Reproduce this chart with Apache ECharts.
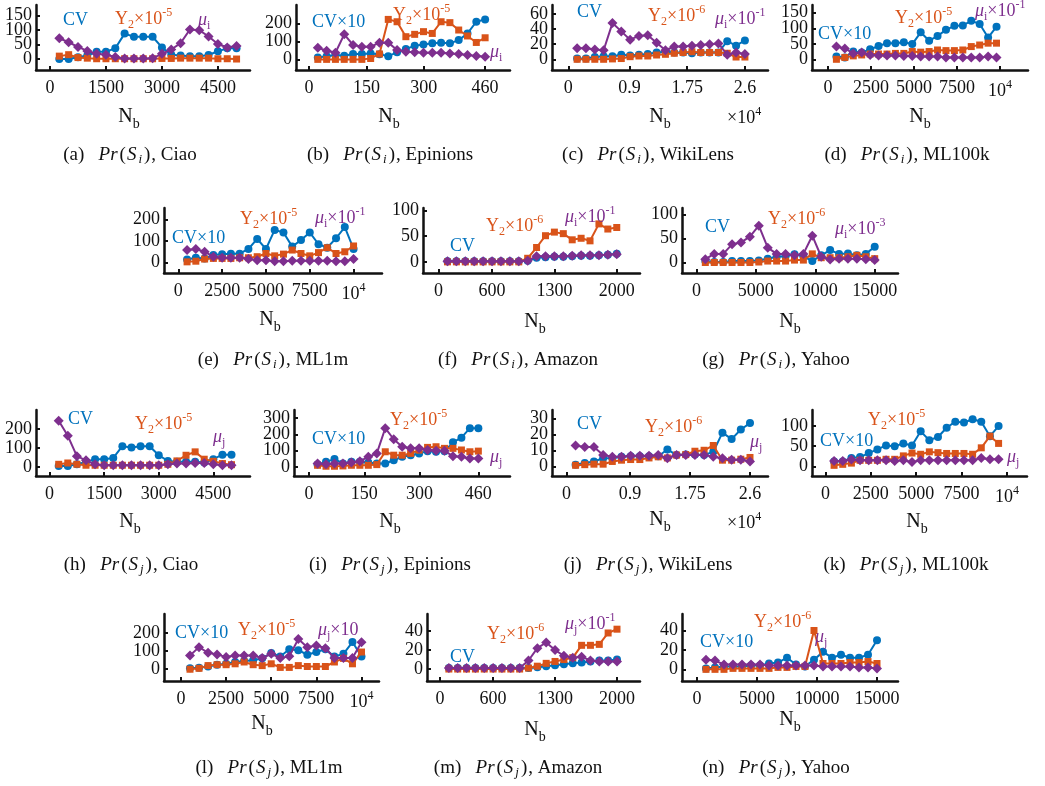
<!DOCTYPE html>
<html><head><meta charset="utf-8">
<script src="https://cdn.jsdelivr.net/npm/echarts@6/dist/echarts.min.js"></script>
<style>html,body{margin:0;padding:0;background:#fff}#c{width:1045px;height:786px}</style>
</head><body><div id="c"></div><script>
// ---------- DATA ----------
// (a) Pr(S_i), Ciao
const a_x  = [250,500,750,1000,1250,1500,1750,2000,2250,2500,2750,3000,3250,3500,3750,4000,4250,4500,4750,5000];
const a_cv = [0,0,6,12,25,25,37,88,77,77,77,40,15,12,10,10,14,27,37,37];
const a_y2 = [10,15,5,3,1,1,1,1,1,1,1,2,2,3,3,3,3,1,1,0];
const a_mu = [72,58,42,28,18,15,7,2,2,2,3,18,33,55,102,100,78,52,40,45];
// (b) Pr(S_i), Epinions
const b_x  = [23,46,69,92,115,138,161,184,207,230,253,276,299,322,345,368,391,414,437,460];
const b_cv = [11,18,24,20,30,30,33,28,18,39,57,76,83,89,92,89,107,144,209,222];
const b_y2 = [0,0,0,0,0,0,5,30,222,209,126,139,154,144,209,204,163,130,94,120];
const b_mu = [65,48,37,139,80,70,70,93,93,52,43,39,37,37,37,33,30,24,19,15];
// (c) Pr(S_i), WikiLens (x in 10^4)
const c_x  = [0.13,0.26,0.39,0.52,0.65,0.78,0.91,1.04,1.17,1.3,1.43,1.56,1.69,1.82,1.95,2.08,2.21,2.34,2.47,2.6];
const c_cv = [1,1,3,4,4,6,5,6,7,9,10,9,9,8,9,9,9,24,18,25];
const c_y2 = [0,0,0,0,0.5,1,3.5,4.4,4.4,5.7,6.6,8,9,10,9,9,9,8,3,3];
const c_mu = [14.6,14.6,13,12,48,37,26,31,32,22,12,17,17,18,19,20,21,6,9,7];
// (d) Pr(S_i), ML100k
const d_x  = [490,980,1470,1960,2450,2940,3430,3920,4410,4900,5390,5880,6370,6860,7350,7840,8330,8820,9310,9800];
const d_cv = [9,6,25,22,32,43,52,52,55,49,87,60,75,95,108,109,124,114,70,105];
const d_y2 = [0,6,11,14,17,17,17,19,19,25,23,25,30,28,28,30,41,46,52,52];
const d_mu = [41,35,19,22,14,12,12,12,11,11,9,9,9,6,6,6,6,6,9,6];
// (e) Pr(S_i), ML1m
const e_x  = [500,1000,1500,2000,2500,3000,3500,4000,4500,5000,5500,6000,6500,7000,7500,8000,8500,9000,9500,10000];
const e_cv = [14,22,19,35,38,41,41,63,110,63,152,140,74,105,140,85,69,113,165,63];
const e_y2 = [3,6,16,19,19,19,22,22,27,42,31,39,58,42,31,46,69,42,50,77];
const e_mu = [58,63,50,27,22,22,22,16,11,11,6,6,8,8,8,8,8,6,6,16];
// (f) Pr(S_i), Amazon
const f_x  = [100,200,300,400,500,600,700,800,900,1000,1100,1200,1300,1400,1500,1600,1700,1800,1900,2000];
const f_cv = [1,1,1,1,1,1,1,1,1,2,8,9,10,10,11,12,12,13,14,16];
const f_y2 = [0,0,0,0,0,0,0,0,0,7,28,51,58,55,43,46,41,74,64,67];
const f_mu = [1,1,1,1,1,1,1,1,1,2,11,11,11,11,12,13,13,13,14,15];
// (g) Pr(S_i), Yahoo
const g_x  = [750,1500,2250,3000,3750,4500,5250,6000,6750,7500,8250,9000,9750,10500,11250,12000,12750,13500,14250,15000];
const g_cv = [3,1,1,3,3,3,4,8,12,13,17,13,3,15,26,18,19,15,18,33];
const g_y2 = [0,0,0,0,0,0,1,3,3,3,5,5,18,10,10,10,12,15,12,8];
const g_mu = [7,18,18,38,42,54,77,31,18,18,15,18,56,12,6,8,8,8,7,5];
// (h) Pr(S_j), Ciao
const h_x  = [250,500,750,1000,1250,1500,1750,2000,2250,2500,2750,3000,3250,3500,3750,4000,4250,4500,4750,5000];
const h_cv = [5,5,14,27,41,41,48,110,103,110,110,62,32,27,27,27,23,41,65,65];
const h_y2 = [14,21,14,9,9,9,9,9,9,9,9,9,14,32,62,80,41,30,18,12];
const h_mu = [245,165,57,35,14,9,9,9,9,9,9,9,14,18,18,21,21,14,9,9];
// (i) Pr(S_j), Epinions
const i_x  = [23,46,69,92,115,138,161,184,207,230,253,276,299,322,345,368,391,414,437,460];
const i_cv = [14,31,48,21,31,31,27,21,21,41,62,72,83,97,93,97,151,180,238,238];
const i_y2 = [10,4,4,6,10,10,10,14,93,72,72,83,103,120,124,114,114,104,93,97];
const i_mu = [21,17,21,21,27,35,62,83,238,170,124,114,114,104,99,99,66,62,52,52];
// (j) Pr(S_j), WikiLens (x in 10^4)
const j_x  = [0.13,0.26,0.39,0.52,0.65,0.78,0.91,1.04,1.17,1.3,1.43,1.56,1.69,1.82,1.95,2.08,2.21,2.34,2.47,2.6];
const j_cv = [1,2,3,5,5,6,6.3,6.3,6.3,6.3,10.5,7,7.3,7.3,7,9,21,17,23,27];
const j_y2 = [0.6,1,1.3,1.3,3,3.8,4.2,4.2,5.2,5.9,5.2,7,7.3,9.4,10,13,3.8,3.8,4.4,5.5];
const j_mu = [13,12,12,7,6,6,6.5,6.5,6.5,7,5,7,7,7,7,6,5,4,4,3];
// (k) Pr(S_j), ML100k
const k_x  = [477,954,1431,1908,2385,2862,3339,3816,4293,4770,5247,5724,6201,6678,7155,7632,8109,8586,9063,9540];
const k_cv = [12,12,21,23,33,42,52,50,57,52,87,65,73,96,111,109,117,111,75,100];
const k_y2 = [2.5,5,8,15,15,15,17.5,17.5,26,33,30,36,34,32,32,32,30,46,75,57];
const k_mu = [13,13,17,15,15,15,15,13,15,11,15,15,15,15,15,15,15,21,17.5,17.5];
// (l) Pr(S_j), ML1m
const l_x  = [500,1000,1500,2000,2500,3000,3500,4000,4500,5000,5500,6000,6500,7000,7500,8000,8500,9000,9500,10000];
const l_cv = [5,8,15,25,30,40,45,50,60,90,70,110,105,80,95,110,70,85,150,70];
const l_y2 = [0,5,20,25,25,30,40,25,20,30,10,10,20,15,15,15,40,60,30,95];
const l_mu = [76,122,91,82,67,76,76,76,62,85,62,71,167,122,131,116,62,62,62,149];
// (m) Pr(S_j), Amazon
const m_x  = [100,200,300,400,500,600,700,800,900,1000,1100,1200,1300,1400,1500,1600,1700,1800,1900,2000];
const m_cv = [1,1,1,1,1,1,1,1,1,1,2,3,4,5,6,7,8,9,9,10];
const m_y2 = [0,0,0,0,0,0,0,0,0,1,3,6,8,10,12,25,25,26,38,42];
const m_mu = [1,1,1,1,1,1,1,1,1,9,22,28,20,14,12,13,9,8,8,8];
// (n) Pr(S_j), Yahoo
const n_x  = [750,1500,2250,3000,3750,4500,5250,6000,6750,7500,8250,9000,9750,10500,11250,12000,12750,13500,14250,15000];
const n_cv = [1,2,3,3,3,4,4,6,7,12,5,3,10,18,12,15,12,12,15,30];
const n_y2 = [0,0,0,1,1,1,1,1,2,2,3,3,40,6,6,6,7,7,8,6];
const n_mu = [10,9,5,5,5,5,5,4,4,4,4,4,4,3,3,3,3,2,2,1];

// tick values
const t_ciao = [0,1500,3000,4500];
const t_epin = [0,150,300,460];
const t_wiki = [0,0.9,1.75,2.6];
const t_ml   = [0,2500,5000,7500,10000];
const t_amz  = [0,600,1300,2000];
const t_yah  = [0,5000,10000,15000];
const ya_t = [0,50,100,150], yb_t = [0,100,200], yc_t = [0,20,40,60], yd_t = [0,50,100,150];
const ye_t = [0,100,200], yf_t = [0,50,100], yg_t = [0,50,100];
const yh_t = [0,100,200], yi_t = [0,100,200,300], yj_t = [0,10,20,30], yk_t = [0,50,100];
const yl_t = [0,100,200], ym_t = [0,20,40], yn_t = [0,20,40];

// ---------- LAYOUT ----------
const BLUE = '#0072BD', ORANGE = '#D95319', PURPLE = '#7E2F8E';
const F = '"Liberation Serif", "Times New Roman", serif';

const panels = [
 {g:[36,5,214,65],   xr:[-375,5360],   yr:[-38,187],  xt:t_ciao, yt:ya_t, xs:a_x, cv:a_cv, y2:a_y2, mu:a_mu},
 {g:[296,5,214,65],  xr:[-34,525],     yr:[-59,302],  xt:t_epin, yt:yb_t, xs:b_x, cv:b_cv, y2:b_y2, mu:b_mu},
 {g:[552,5,216,65],  xr:[-0.24,2.94],  yr:[-14.2,72], xt:t_wiki, yt:yc_t, xs:c_x, cv:c_cv, y2:c_y2, mu:c_mu},
 {g:[812,5,216,65],  xr:[-930,11630],  yr:[-34.5,175],xt:t_ml,   yt:yd_t, xs:d_x, cv:d_cv, y2:d_y2, mu:d_mu, pow:true},
 {g:[164,208,218,65],xr:[-817,11623],  yr:[-49,254],  xt:t_ml,   yt:ye_t, xs:e_x, cv:e_cv, y2:e_y2, mu:e_mu, pow:true},
 {g:[423,208,217,65],xr:[-175,2261],   yr:[-21.7,105],xt:t_amz,  yt:yf_t, xs:f_x, cv:f_cv, y2:f_y2, mu:f_mu},
 {g:[682,208,216,65],xr:[-1213,16960], yr:[-22,114],  xt:t_yah,  yt:yg_t, xs:g_x, cv:g_cv, y2:g_y2, mu:g_mu},
 {g:[36,410,214,66], xr:[-374,5508],   yr:[-48,302],  xt:t_ciao, yt:yh_t, xs:h_x, cv:h_cv, y2:h_y2, mu:h_mu},
 {g:[294,410,216,66],xr:[-41,546],     yr:[-56,350],  xt:t_epin, yt:yi_t, xs:i_x, cv:i_cv, y2:i_y2, mu:i_mu},
 {g:[552,410,216,66],xr:[-0.204,2.855],yr:[-6.1,35.2],xt:t_wiki, yt:yj_t, xs:j_x, cv:j_cv, y2:j_y2, mu:j_mu},
 {g:[812,410,215,66],xr:[-740,11105],  yr:[-24,140],  xt:t_ml,   yt:yk_t, xs:k_x, cv:k_cv, y2:k_y2, mu:k_mu, pow:true},
 {g:[164,614,215,67],xr:[-940,10970],  yr:[-65,305],  xt:t_ml,   yt:yl_t, xs:l_x, cv:l_cv, y2:l_y2, mu:l_mu, pow:true},
 {g:[427,614,213,67],xr:[-147,2260],   yr:[-12.6,58], xt:t_amz,  yt:ym_t, xs:m_x, cv:m_cv, y2:m_y2, mu:m_mu},
 {g:[682,614,216,67],xr:[-1250,16750], yr:[-12,57],   xt:t_yah,  yt:yn_t, xs:n_x, cv:n_cv, y2:n_y2, mu:n_mu}
];

const RICH = {
  n:   {fontFamily:F, fontSize:18},
  mu:  {fontFamily:F, fontSize:18, fontStyle:'italic'},
  sub: {fontFamily:F, fontSize:12, padding:[12,0,0,0]},
  sup: {fontFamily:F, fontSize:12, padding:[0,0,12,0]},
  N:   {fontFamily:F, fontSize:20},
  b:   {fontFamily:F, fontSize:14, padding:[14,0,0,0]},
  c:   {fontFamily:F, fontSize:19},
  ci:  {fontFamily:F, fontSize:19, fontStyle:'italic', padding:[0,1,0,0]},
  cp:  {fontFamily:F, fontSize:19, padding:[0,1,0,1]},
  cs:  {fontFamily:F, fontSize:13, fontStyle:'italic', padding:[10,1,0,1]}
};

const N = panels.length;
const grid = [], xAxis = [], yAxis = [], yAxis2 = [], series = [];
const AX = {color:'#111', width:2.5};
panels.forEach((p, k) => {
  const fx = v => (p.pow && v === 10000) ? '{n|10}{sup|4}' : '{n|' + v + '}';
  const even = p.yt.filter((v, i) => i % 2 === 0), odd = p.yt.filter((v, i) => i % 2 === 1);
  grid.push({left:p.g[0], top:p.g[1], width:p.g[2], height:p.g[3], containLabel:false, outerBoundsMode:'none'});
  xAxis.push({
    type:'value', gridIndex:k, min:p.xr[0], max:p.xr[1],
    axisLine:{show:true, onZero:false, lineStyle:AX},
    axisTick:{show:true, inside:true, length:4, customValues:p.xt, lineStyle:{color:'#111', width:2}},
    axisLabel:{show:true, customValues:p.xt, margin:9, color:'#111', fontFamily:F, fontSize:18,
      formatter:fx, rich:RICH, hideOverlap:false, showMinLabel:true, showMaxLabel:true},
    splitLine:{show:false}
  });
  // main y axis: line, every tick, labels at even positions
  yAxis.push({
    type:'value', gridIndex:k, position:'left', offset:0, min:p.yr[0], max:p.yr[1],
    axisLine:{show:true, onZero:false, lineStyle:AX},
    axisTick:{show:true, inside:true, length:4, customValues:p.yt, lineStyle:{color:'#111', width:2}},
    axisLabel:{show:true, customValues:even, margin:4, color:'#111', fontFamily:F, fontSize:18,
      hideOverlap:false, showMinLabel:true, showMaxLabel:true},
    splitLine:{show:false}
  });
  // companion y axis on the same side carrying the remaining labels (avoids automatic overlap hiding)
  yAxis2.push({
    type:'value', gridIndex:k, position:'left', offset:0, min:p.yr[0], max:p.yr[1],
    axisLine:{show:false}, axisTick:{show:false},
    axisLabel:{show:odd.length > 0, customValues:odd.length ? odd : [p.yt[0]], margin:4, color:'#111', fontFamily:F, fontSize:18,
      hideOverlap:false, showMinLabel:true, showMaxLabel:true},
    splitLine:{show:false}
  });
  const mk = arr => p.xs.map((x, i) => [x, arr[i]]);
  series.push({type:'line', xAxisIndex:k, yAxisIndex:k, data:mk(p.cv), symbol:'circle', symbolSize:8,
    showAllSymbol:true, lineStyle:{width:2, color:BLUE}, itemStyle:{color:BLUE}, z:2, animation:false});
  series.push({type:'line', xAxisIndex:k, yAxisIndex:k, data:mk(p.y2), symbol:'rect', symbolSize:7,
    showAllSymbol:true, lineStyle:{width:2, color:ORANGE}, itemStyle:{color:ORANGE}, z:3, animation:false});
  series.push({type:'line', xAxisIndex:k, yAxisIndex:k, data:mk(p.mu), symbol:'diamond', symbolSize:10,
    showAllSymbol:true, lineStyle:{width:2, color:PURPLE}, itemStyle:{color:PURPLE}, z:4, animation:false});
});

// ---------- TEXT ----------
const CV = '{n|CV}', CV10 = '{n|CV×10}';
const Y2 = e => '{n|Y}{sub|2}{n|×10}{sup|' + e + '}';
const MU = (s, tail) => '{mu|μ}{sub|' + s + '}' + (tail || '');
const X10 = e => '{n|×10}{sup|' + e + '}';
const NB = '{N|N}{b|b}';
const CAP = (l, s, name) => '{c|(' + l + ')\u2002 }{ci|Pr}{cp|(}{ci|S}{cs|' + s + '}{cp|)}{c|, ' + name + '}';

const notes = [
 // [x, y, text, color, align]
 [63,20,CV,BLUE],[115,19,Y2('-5'),ORANGE],[198,20,MU('i'),PURPLE],
 [312,22,CV10,BLUE],[393,15,Y2('-5'),ORANGE],[490,52,MU('i'),PURPLE],
 [577,12,CV,BLUE],[648,16,Y2('-6'),ORANGE],[715,19,MU('i',X10('-1')),PURPLE],
 [818,34,CV10,BLUE],[895,18,Y2('-5'),ORANGE],[975,11,MU('i',X10('-1')),PURPLE],
 [172,238,CV10,BLUE],[240,219,Y2('-5'),ORANGE],[315,218,MU('i',X10('-1')),PURPLE],
 [450,246,CV,BLUE],[486,226,Y2('-6'),ORANGE],[565,217,MU('i',X10('-1')),PURPLE],
 [705,227,CV,BLUE],[768,219,Y2('-6'),ORANGE],[835,229,MU('i',X10('-3')),PURPLE],
 [68,419,CV,BLUE],[135,424,Y2('-5'),ORANGE],[213,437,MU('j'),PURPLE],
 [312,439,CV10,BLUE],[390,420,Y2('-5'),ORANGE],[490,457,MU('j'),PURPLE],
 [577,424,CV,BLUE],[645,427,Y2('-6'),ORANGE],[750,442,MU('j'),PURPLE],
 [820,441,CV10,BLUE],[868,420,Y2('-5'),ORANGE],[1007,457,MU('j'),PURPLE],
 [175,633,CV10,BLUE],[238,630,Y2('-5'),ORANGE],[318,630,MU('j','{n|×10}'),PURPLE],
 [450,657,CV,BLUE],[487,634,Y2('-6'),ORANGE],[565,624,MU('j',X10('-1')),PURPLE],
 [700,642,CV10,BLUE],[754,622,Y2('-6'),ORANGE],[815,637,MU('j'),PURPLE],
 // x10^4 exponent labels
 [727,118,X10('4'),'#111'],[727,523,X10('4'),'#111'],
 // N_b axis titles
 [129,117,NB,'#111','center'],[389,117,NB,'#111','center'],[660,117,NB,'#111','center'],[920,117,NB,'#111','center'],
 [270,320,NB,'#111','center'],[535,322,NB,'#111','center'],[790,322,NB,'#111','center'],
 [130,522,NB,'#111','center'],[390,522,NB,'#111','center'],[660,520,NB,'#111','center'],[917,522,NB,'#111','center'],
 [262,724,NB,'#111','center'],[535,730,NB,'#111','center'],[790,720,NB,'#111','center'],
 // captions
 [130,155,CAP('a','i','Ciao'),'#111','center'],[390,155,CAP('b','i','Epinions'),'#111','center'],
 [648,155,CAP('c','i','WikiLens'),'#111','center'],[907,155,CAP('d','i','ML100k'),'#111','center'],
 [273,360,CAP('e','i','ML1m'),'#111','center'],[518,360,CAP('f','i','Amazon'),'#111','center'],
 [776,360,CAP('g','i','Yahoo'),'#111','center'],
 [131,565,CAP('h','j','Ciao'),'#111','center'],[390,565,CAP('i','j','Epinions'),'#111','center'],
 [648,565,CAP('j','j','WikiLens'),'#111','center'],[906,565,CAP('k','j','ML100k'),'#111','center'],
 [269,768,CAP('l','j','ML1m'),'#111','center'],[518,768,CAP('m','j','Amazon'),'#111','center'],
 [776,768,CAP('n','j','Yahoo'),'#111','center']
];

const graphic = notes.map(n => ({
  type:'text', x:n[0], y:n[1], silent:true, z:10,
  style:{text:n[2], fill:n[3], textAlign:n[4] || 'left', textVerticalAlign:'middle', rich:RICH, font:'18px ' + F}
}));

const chart = echarts.init(document.getElementById('c'), null, {renderer:'canvas'});
chart.setOption({animation:false, backgroundColor:'#fff', grid, xAxis, yAxis: yAxis.concat(yAxis2), series, graphic});
</script></body></html>
